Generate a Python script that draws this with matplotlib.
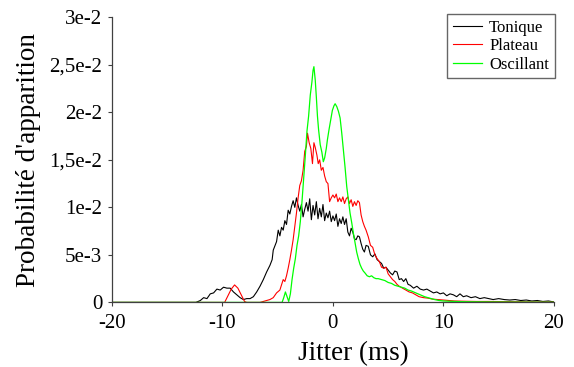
import matplotlib
matplotlib.use("Agg")
import matplotlib.pyplot as plt
import numpy as np
from matplotlib.ticker import FixedLocator, FixedFormatter

# Tonique (black), jitter in ms / probability in units of 1e-3
tonique_t = [-20, -12.4, -12.0, -11.7, -11.4, -11.1, -10.8, -10.5, -10.2, -9.9, -9.6, -9.3, -9.0,
             -8.7, -8.4, -8.1, -7.8, -7.5, -7.2, -6.9, -6.6, -6.3, -6.0, -5.7, -5.5, -5.4, -5.1,
             -4.95, -4.8, -4.65, -4.5, -4.35, -4.2, -4.05, -3.9, -3.75, -3.6, -3.45, -3.3, -3.15,
             -3.0, -2.85, -2.7, -2.55, -2.4, -2.25, -2.1, -1.95, -1.8, -1.65, -1.5, -1.35, -1.2,
             -1.05, -0.9, -0.75, -0.6, -0.45, -0.3, -0.15, 0.0, 0.15, 0.3, 0.45, 0.6, 0.75, 0.9,
             1.05, 1.2, 1.35, 1.5, 1.65, 1.8, 1.95, 2.1, 2.25, 2.4, 2.55, 2.7, 2.85, 3.0, 3.2,
             3.4, 3.6, 3.8, 4.0, 4.2, 4.4, 4.6, 4.8, 5.0, 5.2, 5.4, 5.6, 5.8, 6.0, 6.2, 6.4, 6.6,
             6.8, 7.0, 7.3, 7.6, 7.9, 8.2, 8.5, 8.8, 9.1, 9.4, 9.7, 10.0, 10.3, 10.6, 10.9, 11.2,
             11.5, 11.8, 12.1, 12.5, 12.9, 13.3, 13.7, 14.1, 14.5, 15.0, 15.5, 16.0, 16.5, 17.0,
             17.5, 18.0, 18.5, 19.0, 19.5, 20.0]
tonique_p = [0, 0, 0.2, 0.5, 0.4, 0.9, 1.0, 1.4, 1.3, 1.6, 1.5, 1.5, 1.1,
             0.8, 0.5, 0.3, 0.4, 0.4, 0.6, 1.1, 1.7, 2.4, 3.2, 3.9, 4.5, 5.5, 6.4,
             7.6, 7.0, 7.9, 7.6, 8.6, 8.2, 9.7, 9.3, 10.1, 10.7, 10.0, 11.0, 10.2,
             9.6, 10.3, 9.0, 9.8, 10.5, 9.6, 10.9, 8.7, 10.2, 9.2, 10.6, 8.8, 9.9,
             9.0, 10.3, 8.6, 9.4, 8.9, 9.6, 8.5, 9.1, 8.6, 9.3, 8.0, 8.8, 8.3, 9.0,
             8.2, 8.8, 7.4, 7.0, 7.8, 7.4, 6.7, 6.6, 7.0, 6.9, 6.2, 5.6, 5.3, 6.0, 5.9,
             5.0, 4.8, 5.1, 4.5, 4.3, 4.1, 3.6, 3.7, 3.4, 3.1, 2.9, 3.3, 3.2, 2.4, 2.5, 2.2, 2.5,
             1.9, 1.8, 1.5, 1.7, 1.4, 1.3, 1.4, 1.2, 1.0, 1.1, 0.9, 1.0, 0.7, 0.9, 0.8, 0.6,
             0.9, 0.6, 0.7, 0.5, 0.6, 0.4, 0.5, 0.4, 0.3, 0.4, 0.3, 0.25, 0.3, 0.2,
             0.25, 0.15, 0.2, 0.1, 0.15, 0.05]

# Plateau (red)
plateau_t = [-20, -9.8, -9.5, -9.2, -8.9, -8.6, -8.3, -8.0, -7.8, -6.6, -6.3, -6.0, -5.7, -5.4,
             -5.1, -4.8, -4.5, -4.35, -4.2, -4.05, -3.9, -3.75, -3.6, -3.45, -3.3, -3.15, -3.0,
             -2.85, -2.7, -2.55, -2.4, -2.3, -2.15, -2.0, -1.85, -1.72, -1.6, -1.45, -1.33, -1.2,
             -1.05, -0.9, -0.75, -0.6, -0.45, -0.3, -0.15, 0.0, 0.15, 0.3, 0.45, 0.6, 0.75, 0.9,
             1.05, 1.2, 1.35, 1.5, 1.65, 1.8, 1.95, 2.1, 2.25, 2.4, 2.55, 2.7, 2.85, 3.0, 3.2,
             3.4, 3.6, 3.8, 4.0, 4.2, 4.4, 4.6, 4.8, 5.0, 5.2, 5.4, 5.6, 5.8, 6.0, 6.3, 6.6, 6.9,
             7.2, 7.5, 7.8, 8.2, 8.6, 9.0, 9.5, 10.0, 10.5, 11.0, 12.0, 13.0, 14.0, 16.0, 18.0,
             20.0]
plateau_p = [0, 0, 0.7, 1.4, 1.84, 1.5, 0.8, 0.1, 0, 0, 0.1, 0.2, 0.3, 0.5,
             1.0, 1.3, 2.4, 2.2, 2.8, 3.6, 4.5, 5.5, 6.6, 8.0, 9.4, 11.0, 12.3,
             12.8, 13.9, 15.9, 16.4, 17.8, 16.8, 16.2, 14.6, 16.8, 16.3, 15.5, 14.6, 15.0,
             13.9, 14.2, 13.3, 12.7, 12.5, 10.6, 11.0, 11.3, 11.0, 11.4, 10.6, 11.0, 10.6, 11.1,
             10.4, 10.9, 11.1, 10.4, 10.8, 10.1, 10.6, 10.2, 10.7, 10.5, 9.2, 8.5, 8.0, 7.6, 6.9,
             6.0, 5.8, 5.0, 4.6, 4.3, 3.7, 3.6, 3.7, 3.0, 2.7, 2.4, 2.2, 1.9, 1.7, 1.5, 1.3, 1.1,
             1.0, 0.8, 0.6, 0.5, 0.45, 0.35, 0.3, 0.25, 0.2, 0.15, 0.12, 0.1, 0.1, 0.08, 0.05,
             0.03]

# Oscillant (green)
oscillant_t = [-20, -4.6, -4.45, -4.3, -4.15, -4.0, -3.85, -3.7, -3.55, -3.4, -3.25, -3.1, -2.95,
               -2.8, -2.65, -2.5, -2.35, -2.2, -2.05, -1.9, -1.8, -1.72, -1.6, -1.5, -1.4, -1.3,
               -1.15, -1.0, -0.87, -0.75, -0.6, -0.5, -0.35, -0.2, -0.05, 0.1, 0.2, 0.35, 0.5,
               0.65, 0.8, 0.95, 1.1, 1.25, 1.4, 1.55, 1.7, 1.85, 2.0, 2.15, 2.3, 2.45, 2.6, 2.75,
               2.9, 3.1, 3.3, 3.5, 3.7, 3.9, 4.1, 4.4, 4.7, 5.0, 5.3, 5.6, 5.9, 6.2, 6.5, 6.8,
               7.1, 7.4, 7.7, 8.0, 8.3, 8.6, 8.9, 9.2, 9.6, 10.0, 11.0, 12.0, 14.0, 17.0, 20.0]
oscillant_p = [0, 0, 0.5, 1.1, 0.6, 0.1, 0.9, 2.4, 3.6, 4.6, 6.0, 7.0, 8.5,
               10.6, 13.0, 15.4, 18.0, 19.6, 21.8, 23.2, 24.4, 24.8, 23.4, 21.6, 19.6, 18.2,
               16.6, 15.8, 14.8, 15.2, 16.2, 17.1, 18.2, 19.2, 20.2, 20.7, 20.9, 20.6, 20.1,
               19.4, 17.8, 16.0, 14.2, 12.2, 10.8, 9.4, 8.4, 7.3, 6.3, 5.3, 4.6, 4.0, 3.6, 3.3,
               3.1, 2.8, 2.7, 2.8, 2.6, 2.5, 2.5, 2.4, 2.3, 2.1, 2.0, 1.8, 1.7, 1.6, 1.5, 1.3,
               1.2, 1.05, 0.9, 0.75, 0.6, 0.5, 0.4, 0.3, 0.2, 0.15, 0.1, 0.07, 0.05, 0.03, 0.02]

y_ticks = [0, 0.005, 0.01, 0.015, 0.02, 0.025, 0.03]
y_tick_labels = ["0", "5e-3", "1e-2", "1,5e-2", "2e-2", "2,5e-2", "3e-2"]
x_ticks = [-20, -10, 0, 10, 20]
x_tick_labels = ["-20", "-10", "0", "10", "20"]

plt.rcParams["font.family"] = ["Liberation Serif", "DejaVu Serif"]
plt.rcParams["axes.unicode_minus"] = False

fig = plt.figure(figsize=(5.74, 3.67), dpi=100)
ax = fig.add_axes([0.195, 0.176, 0.770, 0.777])

ax.plot(tonique_t, np.array(tonique_p) * 1e-3, color="black", lw=0.8, label="Tonique")
ax.plot(plateau_t, np.array(plateau_p) * 1e-3, color="#ff0000", lw=0.8, label="Plateau")
ax.plot(oscillant_t, np.array(oscillant_p) * 1e-3, color="#00ff00", lw=0.9, label="Oscillant")

ax.set_xlim(-20, 20)
ax.set_ylim(0, 0.03)
ax.xaxis.set_major_locator(FixedLocator(x_ticks))
ax.xaxis.set_major_formatter(FixedFormatter(x_tick_labels))
ax.yaxis.set_major_locator(FixedLocator(y_ticks))
ax.yaxis.set_major_formatter(FixedFormatter(y_tick_labels))

for side in ["top", "right"]:
    ax.spines[side].set_visible(False)
for side in ["left", "bottom"]:
    ax.spines[side].set_color("#404040")
    ax.spines[side].set_linewidth(0.9)

ax.tick_params(direction="out", length=3, width=0.8, color="#404040", labelsize=15)
ax.tick_params(axis="x", pad=5)
ax.tick_params(axis="y", pad=4)

ax.set_xlabel("Jitter (ms)", fontsize=19.5, labelpad=6)
ax.xaxis.label.set_x(0.547)
ax.set_ylabel("Probabilité d'apparition", fontsize=19.5, labelpad=6)

leg = ax.legend(loc="upper right", bbox_to_anchor=(1.002, 1.012), fontsize=12,
                frameon=True, fancybox=False, handlelength=1.7, labelspacing=0.15,
                borderpad=0.35, handletextpad=0.45, borderaxespad=0)
leg.get_frame().set_edgecolor("#404040")
leg.get_frame().set_linewidth(1.0)

fig.savefig("out.png", dpi=100)
